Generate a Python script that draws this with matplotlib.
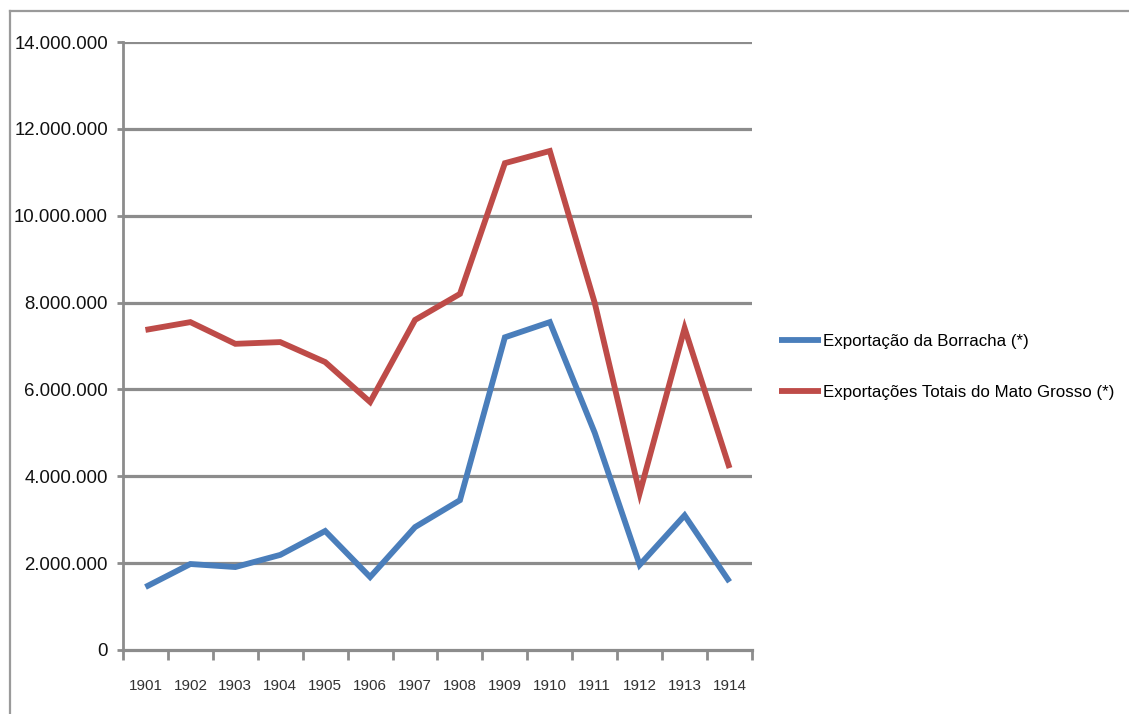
import matplotlib
matplotlib.use("Agg")
import matplotlib.pyplot as plt
from matplotlib.lines import Line2D
from matplotlib.ticker import FuncFormatter, FixedLocator

years = ["1901", "1902", "1903", "1904", "1905", "1906", "1907",
         "1908", "1909", "1910", "1911", "1912", "1913", "1914"]
borracha = [1450000, 1980000, 1910000, 2190000, 2740000, 1680000, 2830000,
            3450000, 7200000, 7550000, 5000000, 1960000, 3100000, 1570000]
totais = [7370000, 7550000, 7050000, 7090000, 6630000, 5710000, 7600000,
          8200000, 11210000, 11490000, 7990000, 3610000, 7410000, 4190000]
series_names = ["Exportação da Borracha (*)",
                "Exportações Totais do Mato Grosso (*)"]
y_ticks = [0, 2000000, 4000000, 6000000, 8000000, 10000000, 12000000, 14000000]

plt.rcParams['font.family'] = ['Liberation Sans', 'DejaVu Sans']

W, H = 1129, 714
fig = plt.figure(figsize=(W / 100, H / 100), dpi=100)
ax = fig.add_axes([123 / W, (H - 650) / H, (752 - 123) / W, (650 - 42) / H])

grid_c = "#8c8c8c"
x = list(range(1, len(years) + 1))

ax.set_ylim(0, 14000000)
ax.set_xlim(0.5, len(years) + 0.5)
ax.set_yticks(y_ticks)
ax.yaxis.set_major_formatter(FuncFormatter(lambda v, p: f"{int(v):,}".replace(",", ".")))
for v in y_ticks[1:]:
    ax.axhline(v, color=grid_c, lw=2.3, zorder=1)

ax.plot(x, borracha, color="#4a7ebb", lw=4.2, solid_joinstyle="miter",
        solid_capstyle="butt", zorder=3, label=series_names[0])
ax.plot(x, totais, color="#be4b48", lw=4.2, solid_joinstyle="miter",
        solid_capstyle="butt", zorder=3, label=series_names[1])

# category labels centred, tick marks on the boundaries
ax.set_xticks(x)
ax.set_xticklabels(years, fontsize=11, color="#333333")
ax.xaxis.set_minor_locator(FixedLocator([i + 0.5 for i in range(0, len(years) + 1)]))
ax.tick_params(axis="x", which="major", length=0, pad=21)
ax.tick_params(axis="x", which="minor", length=7.2, width=2, color=grid_c, direction="out")
ax.tick_params(axis="y", length=4.3, width=2, color=grid_c, labelsize=13.4, pad=6.5,
               labelcolor="#111111")

for s in ["top", "right"]:
    ax.spines[s].set_visible(False)
ax.spines["left"].set_color(grid_c)
ax.spines["left"].set_linewidth(2)
ax.spines["bottom"].set_color(grid_c)
ax.spines["bottom"].set_linewidth(2.3)

fig.legend(loc="center left", bbox_to_anchor=(779 / W, (H - 367) / H),
           frameon=False, fontsize=12.2, handlelength=2.5, handletextpad=0.1,
           labelspacing=2.1, borderaxespad=0, borderpad=0)

# outer frame
fig.add_artist(Line2D([10 / W, 10 / W], [0, (H - 11) / H], transform=fig.transFigure,
                      color="#9a9a9a", lw=1.6))
fig.add_artist(Line2D([10 / W, 1], [(H - 11) / H, (H - 11) / H], transform=fig.transFigure,
                      color="#9a9a9a", lw=1.6))

fig.savefig("out.png", dpi=100, facecolor="white")
